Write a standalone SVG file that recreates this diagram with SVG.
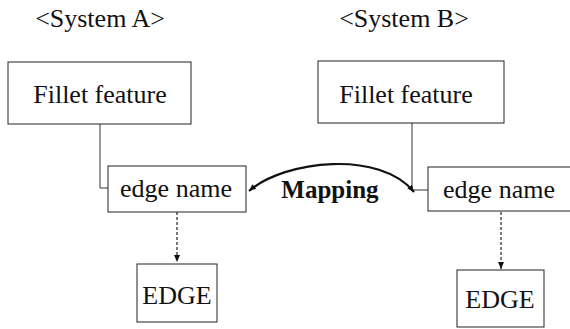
<svg xmlns="http://www.w3.org/2000/svg" width="570" height="329" viewBox="0 0 570 329" font-family="'Liberation Serif', 'Times New Roman', serif">
<style>
.box{fill:#fff;stroke:#222;stroke-width:1}
.t{font-family:'Liberation Serif','Times New Roman',serif;font-size:26px;fill:#111;text-anchor:middle}
.ln{fill:none;stroke:#333;stroke-width:1}
.dash{fill:none;stroke:#222;stroke-width:1.2;stroke-dasharray:3,2}
.curve{fill:none;stroke:#111;stroke-width:2.2}
.map{font-family:'Liberation Serif','Times New Roman',serif;font-size:25px;font-weight:bold;fill:#111;text-anchor:middle}
</style>
<defs>
<marker id="ah" markerWidth="8" markerHeight="8" refX="7" refY="4" orient="auto" markerUnits="userSpaceOnUse">
<path d="M0,1 L7,4 L0,7 Z" fill="#111"/>
</marker>
<marker id="ahs" markerWidth="8" markerHeight="8" refX="7" refY="4" orient="auto-start-reverse" markerUnits="userSpaceOnUse">
<path d="M0,1 L7,4 L0,7 Z" fill="#111"/>
</marker>
</defs>
<text class="t" x="100" y="27" font-family="'Liberation Serif', serif">&lt;System A&gt;</text>
<text class="t" x="404" y="27" font-family="'Liberation Serif', serif">&lt;System B&gt;</text>
<g id="connectors">
<path class="ln" d="M100,124 V188 H108"/>
<path class="ln" d="M412,123 V190 H428"/>
<path class="dash" d="M177,212 V262" marker-end="url(#ah)"/>
<path class="dash" d="M501,212 V269" marker-end="url(#ah)"/>
<path class="curve" d="M249,191 C285,160 380,150 414,192" marker-start="url(#ahs)" marker-end="url(#ah)"/>
<text class="map" x="330" y="198">Mapping</text>
</g>
<g id="fillet-a">
<rect class="box" x="8" y="62" width="183" height="62"/>
<text class="t" x="100" y="103" font-family="'Liberation Serif', serif">Fillet feature</text>
</g>
<g id="fillet-b">
<rect class="box" x="318" y="61" width="186" height="62"/>
<text class="t" x="406" y="103" font-family="'Liberation Serif', serif">Fillet feature</text>
</g>
<g id="edgename-a">
<rect class="box" x="108" y="166" width="138" height="46"/>
<text class="t" x="176" y="197" font-family="'Liberation Serif', serif">edge name</text>
</g>
<g id="edgename-b">
<rect class="box" x="428" y="167" width="145" height="44"/>
<text class="t" x="499" y="198" font-family="'Liberation Serif', serif">edge name</text>
</g>
<g id="edge-a">
<rect class="box" x="137" y="264" width="80" height="58"/>
<text class="t" x="177" y="304" font-family="'Liberation Serif', serif">EDGE</text>
</g>
<g id="edge-b">
<rect class="box" x="457" y="270" width="87" height="57"/>
<text class="t" x="500" y="308" font-family="'Liberation Serif', serif">EDGE</text>
</g>
</svg>
